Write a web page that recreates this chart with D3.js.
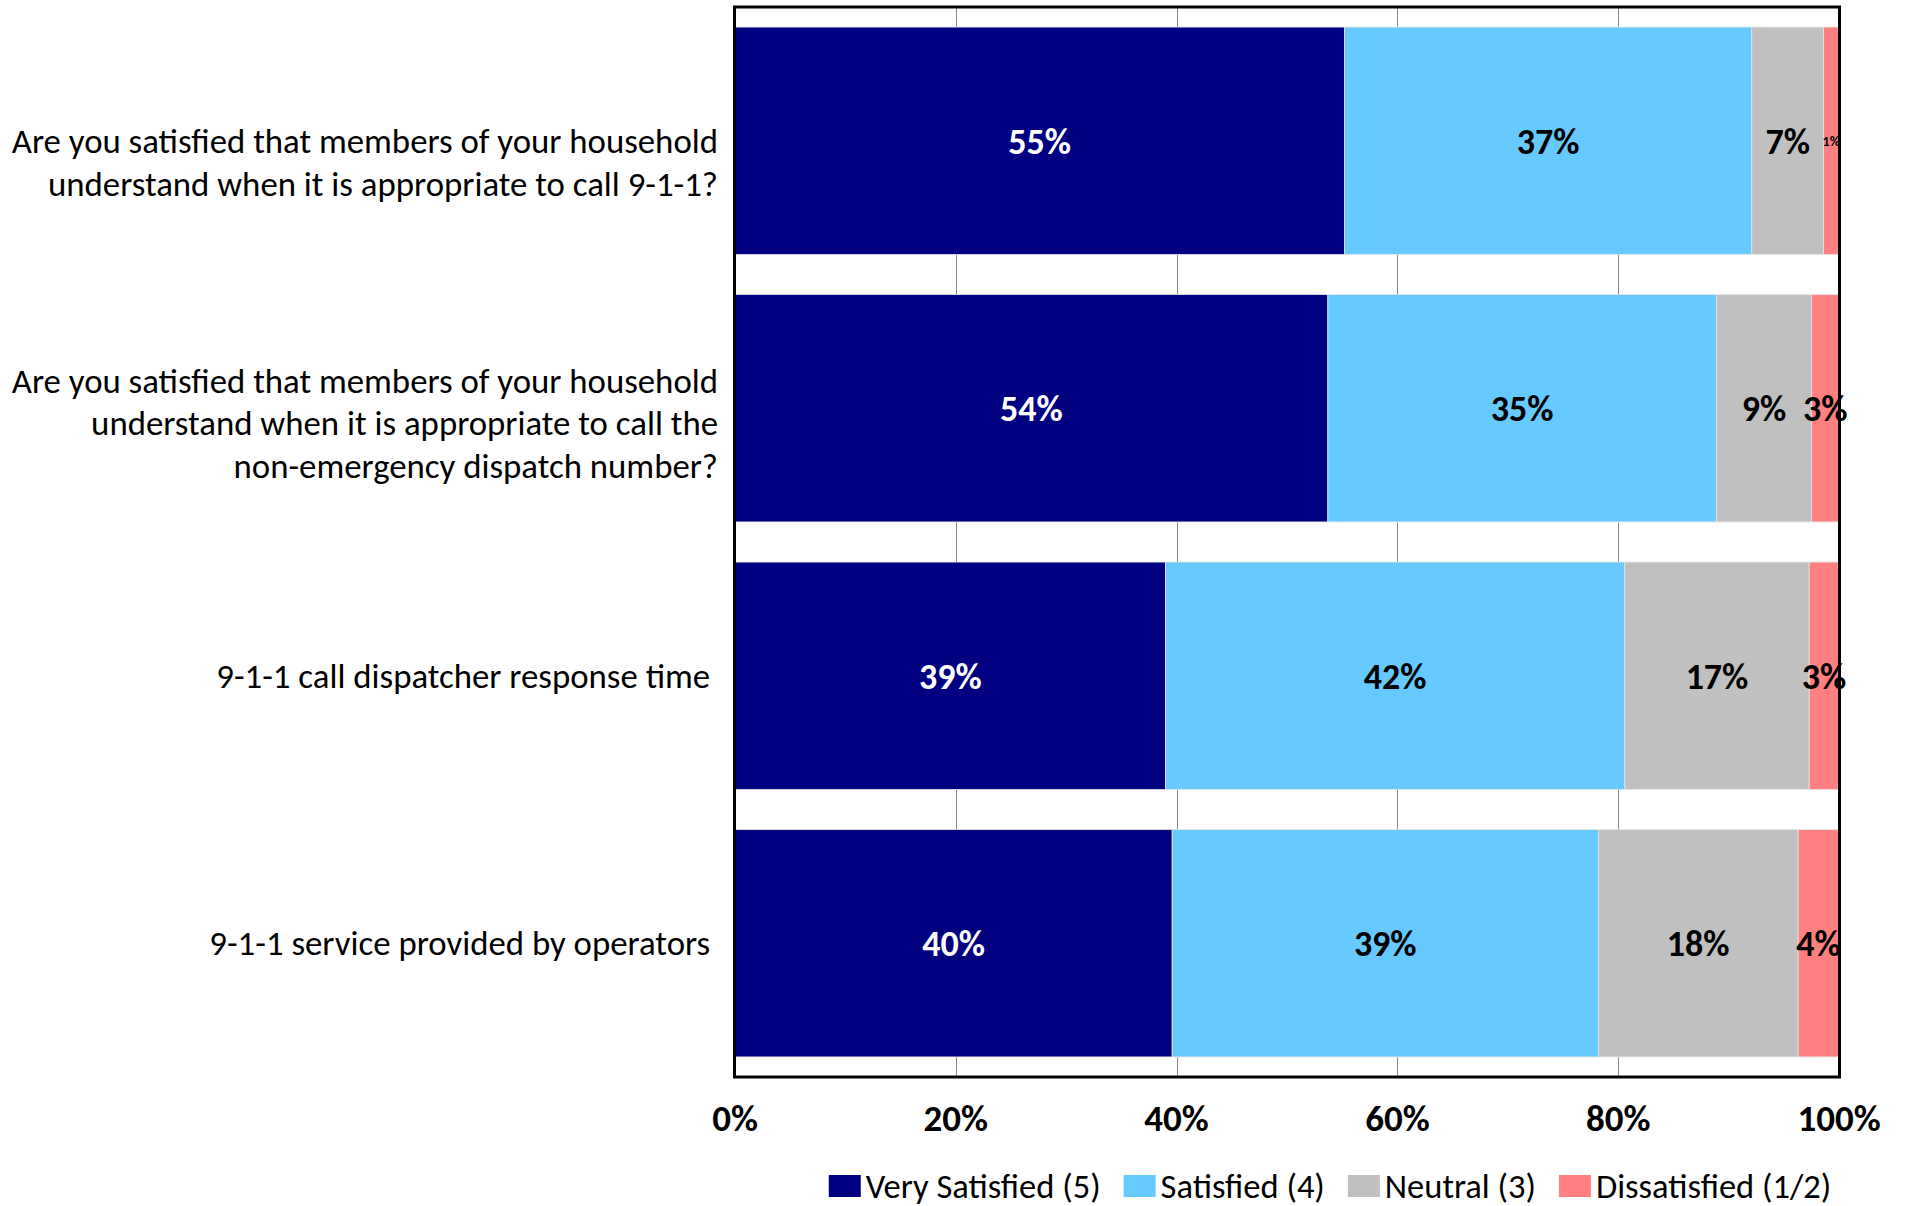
<!DOCTYPE html>
<html lang="en">
<head>
<meta charset="UTF-8">
<title>9-1-1 Satisfaction</title>
<script src="https://d3js.org/d3.v7.min.js"></script>
<style>
    body { margin: 0; background: #ffffff; }
    svg { display: block; font-family: Carlito, Lato, 'Open Sans', sans-serif; }
    .cat-label { font-size: 34.8px; fill: #000; white-space: pre; }
    .tick-label { font-size: 37px; font-weight: bold; fill: #000; }
    .value-label { font-size: 36px; font-weight: bold; }
    .legend-text { font-size: 34.5px; fill: #000; }
</style>
</head>
<body>
<svg id="chart" width="1908" height="1206"></svg>
<script>
    // Categories (top to bottom), each as wrapped lines
    const questions = [
        ["Are you satisfied that members of your household", "understand when it is appropriate to call 9-1-1?"],
        ["Are you satisfied that members of your household", "understand when it is appropriate to call the", "non-emergency dispatch number?"],
        ["9-1-1 call dispatcher response time "],
        ["9-1-1 service provided by operators "]
    ];

    const seriesNames = ["Very Satisfied (5)", "Satisfied (4)", "Neutral (3)", "Dissatisfied (1/2)"];
    const seriesColors = ["#000080", "#66c9ff", "#c0c0c0", "#ff8080"];
    const labelColors = ["#ffffff", "#000000", "#000000", "#000000"];

    // Shares in percent per question, in series order
    const verySatisfied = [55.2, 53.7, 39.0, 39.6];
    const satisfied = [36.9, 35.2, 41.6, 38.6];
    const neutral = [6.5, 8.6, 16.7, 18.1];
    const dissatisfied = [1.4, 2.5, 2.7, 3.7];

    const xTicks = [0, 20, 40, 60, 80, 100];

    const plot = { left: 735, right: 1839, top: 7, bottom: 1077 };

    const svg = d3.select("#chart");

    const x = d3.scaleLinear().domain([0, 100]).range([plot.left, plot.right]);
    const y = d3.scaleBand()
        .domain(d3.range(questions.length))
        .range([plot.top, plot.bottom])
        .paddingInner(0.15)
        .paddingOuter(0.075);

    // grid lines
    svg.append("g")
        .selectAll("line")
        .data(xTicks.slice(1, -1))
        .join("line")
        .attr("x1", d => Math.round(x(d)) + 0.5)
        .attr("x2", d => Math.round(x(d)) + 0.5)
        .attr("y1", plot.top)
        .attr("y2", plot.bottom)
        .attr("stroke", "#868686")
        .attr("stroke-width", 1);

    // stack the series
    const rows = questions.map((q, i) => ({
        i: i,
        v0: verySatisfied[i], v1: satisfied[i], v2: neutral[i], v3: dissatisfied[i]
    }));
    const stacked = d3.stack().keys(["v0", "v1", "v2", "v3"])(rows);

    const groups = svg.append("g")
        .selectAll("g")
        .data(stacked)
        .join("g")
        .attr("fill", (d, k) => seriesColors[k]);

    groups.selectAll("rect")
        .data(d => d)
        .join("rect")
        .attr("x", d => x(d[0]))
        .attr("y", d => y(d.data.i))
        .attr("width", d => x(d[1]) - x(d[0]))
        .attr("height", y.bandwidth())
        .attr("stroke", "#e4e4e4")
        .attr("stroke-width", 0.8);

    // value labels
    stacked.forEach((layer, k) => {
        svg.append("g")
            .selectAll("text")
            .data(layer)
            .join("text")
            .attr("class", "value-label")
            .attr("x", d => (x(d[0]) + x(d[1])) / 2)
            .attr("y", d => y(d.data.i) + y.bandwidth() / 2 + 1)
            .attr("text-anchor", "middle")
            .attr("dominant-baseline", "central")
            .attr("fill", labelColors[k])
            .style("font-size", d => (d[1] - d[0]) < 2 ? "14px" : null)
            .text(d => Math.round(d[1] - d[0]) + "%");
    });

    // plot frame
    svg.append("rect")
        .attr("x", plot.left - 0.5)
        .attr("y", plot.top)
        .attr("width", plot.right - plot.left + 1)
        .attr("height", plot.bottom - plot.top)
        .attr("fill", "none")
        .attr("stroke", "#000")
        .attr("stroke-width", 3);

    // category labels (Excel nudges wrapped labels downward a bit)
    const lineH = 42.6;
    const wrapShift = { 1: 0, 2: 22, 3: 15 };
    svg.append("g")
        .selectAll("text")
        .data(questions)
        .join("text")
        .attr("class", "cat-label")
        .attr("text-anchor", "end")
        .each(function (lines, i) {
            const cy = y(i) + y.bandwidth() / 2 + wrapShift[lines.length] - (lines.length - 1) * lineH / 2;
            d3.select(this).selectAll("tspan")
                .data(lines)
                .join("tspan")
                .attr("x", 718)
                .attr("y", (l, j) => cy + j * lineH)
                .attr("dominant-baseline", "central")
                .text(l => l);
        });

    // x axis tick labels
    svg.append("g")
        .selectAll("text")
        .data(xTicks)
        .join("text")
        .attr("class", "tick-label")
        .attr("x", d => x(d))
        .attr("y", 1118)
        .attr("text-anchor", "middle")
        .attr("dominant-baseline", "central")
        .text(d => d + "%");

    // legend
    const legend = svg.append("g");
    let lx = 0;
    seriesNames.forEach((name, k) => {
        const item = legend.append("g").attr("transform", `translate(${lx},0)`);
        item.append("rect")
            .attr("x", 0).attr("y", 1175)
            .attr("width", 32).attr("height", 22)
            .attr("fill", seriesColors[k]);
        const t = item.append("text")
            .attr("class", "legend-text")
            .attr("x", 37)
            .attr("y", 1186)
            .attr("dominant-baseline", "central")
            .text(name);
        lx += 37 + t.node().getComputedTextLength() + 23;
    });
    const legendW = lx - 23;
    legend.attr("transform", `translate(${1330 - legendW / 2},0)`);
</script>
</body>
</html>
